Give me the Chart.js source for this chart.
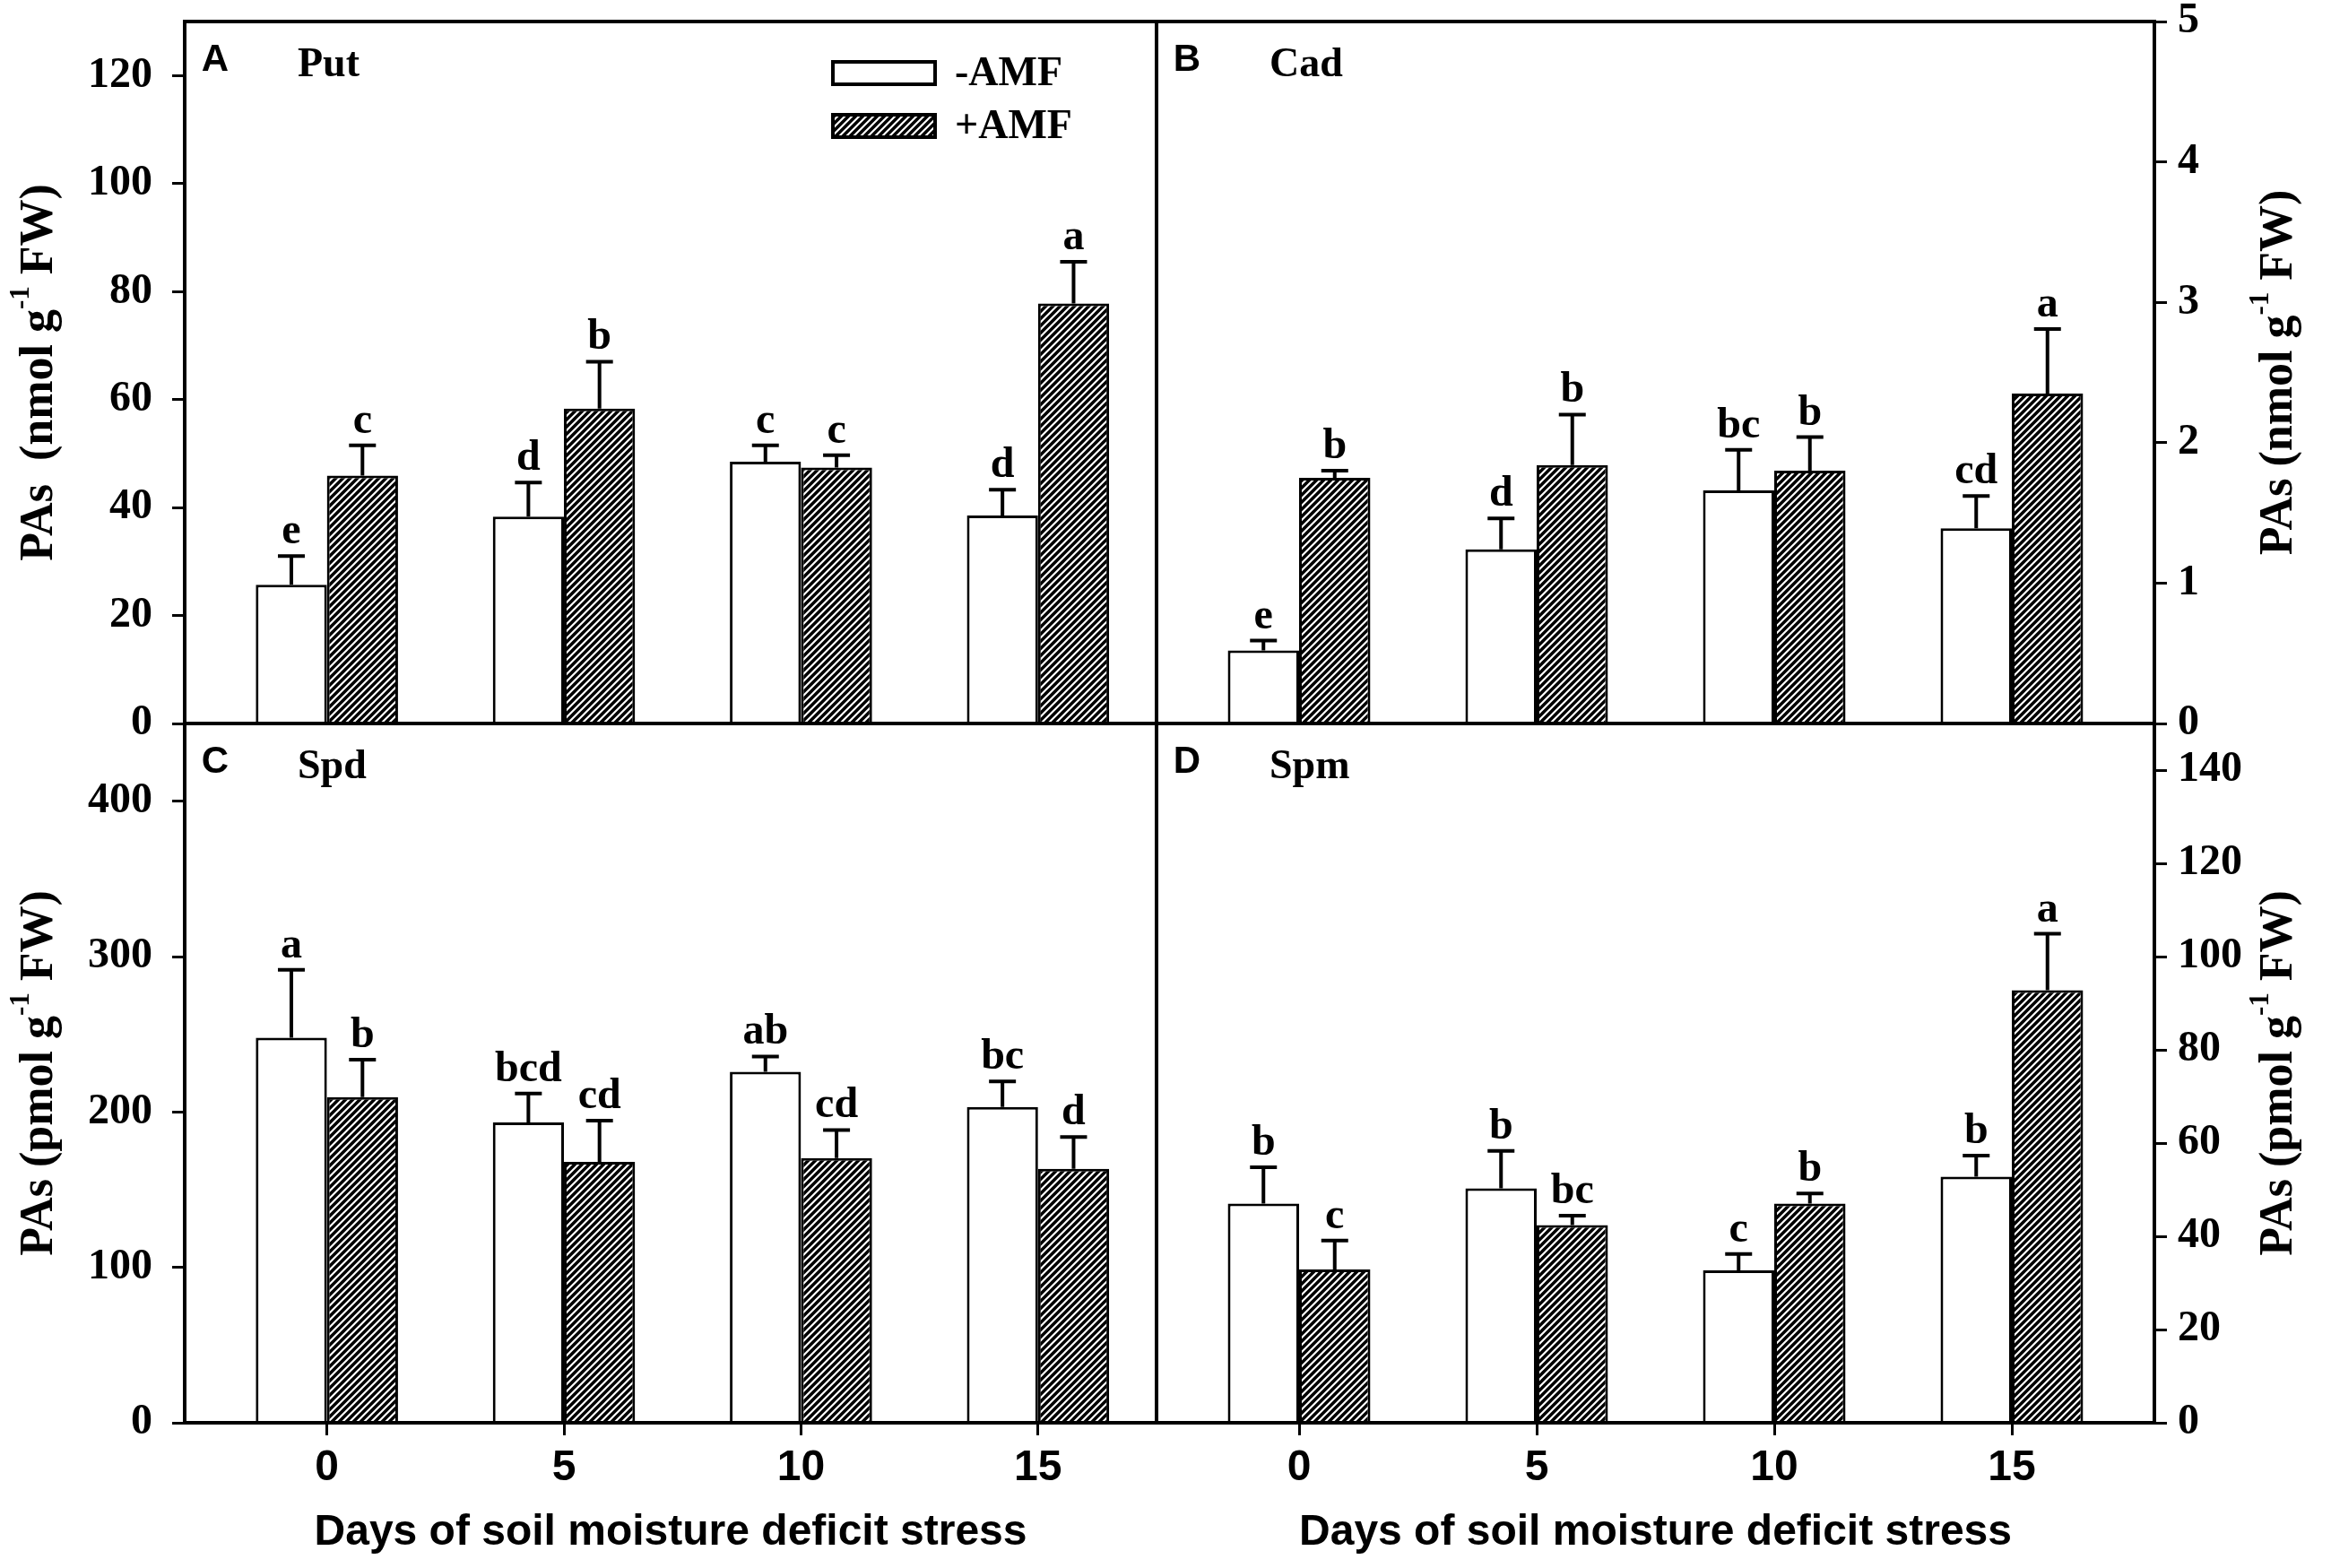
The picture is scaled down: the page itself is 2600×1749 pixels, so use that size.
<!DOCTYPE html>
<html>
<head>
<meta charset="utf-8">
<title>PAs under soil moisture deficit stress</title>
<script src="https://cdn.jsdelivr.net/npm/chart.js@4.4.1/dist/chart.umd.min.js"></script>
<style>
  html, body { margin: 0; padding: 0; background: #fff; }
  #wrap { position: relative; width: 2600px; height: 1749px; background: #fff; }
  #wrap canvas { position: absolute; left: 0; top: 0; }
</style>
</head>
<body>
<div id="wrap">
  <canvas id="chartA" width="2600" height="1749"></canvas>
  <canvas id="chartB" width="2600" height="1749"></canvas>
  <canvas id="chartC" width="2600" height="1749"></canvas>
  <canvas id="chartD" width="2600" height="1749"></canvas>
</div>
<script>
// Datos
const days = [0, 5, 10, 15];
const seriesNames = ['-AMF', '+AMF'];

// A - Put (nmol g-1 FW)
const putMinus = [25.7, 38.3, 48.5, 38.5];
const putMinusErr = [5.3, 6.3, 3.0, 4.8];
const putPlus = [45.9, 58.3, 47.4, 77.8];
const putPlusErr = [5.6, 8.7, 2.3, 7.7];
const putMinusLetters = ['e', 'd', 'c', 'd'];
const putPlusLetters = ['c', 'b', 'c', 'a'];
const putTicks = [0, 20, 40, 60, 80, 100, 120];

// B - Cad (nmol g-1 FW)
const cadMinus = [0.52, 1.24, 1.66, 1.39];
const cadMinusErr = [0.07, 0.22, 0.29, 0.23];
const cadPlus = [1.75, 1.84, 1.80, 2.35];
const cadPlusErr = [0.05, 0.36, 0.24, 0.46];
const cadMinusLetters = ['e', 'd', 'bc', 'cd'];
const cadPlusLetters = ['b', 'b', 'b', 'a'];
const cadTicks = [0, 1, 2, 3, 4, 5];

// C - Spd (pmol g-1 FW)
const spdMinus = [247.8, 193.2, 225.8, 203.2];
const spdMinusErr = [43.7, 18.7, 9.9, 16.5];
const spdPlus = [209.5, 167.9, 170.3, 163.4];
const spdPlusErr = [24.1, 26.5, 18.1, 20.5];
const spdMinusLetters = ['a', 'bcd', 'ab', 'bc'];
const spdPlusLetters = ['b', 'cd', 'cd', 'd'];
const spdTicks = [0, 100, 200, 300, 400];

// D - Spm (pmol g-1 FW)
const spmMinus = [47.0, 50.3, 32.7, 52.8];
const spmMinusErr = [7.8, 8.0, 3.5, 4.5];
const spmPlus = [32.9, 42.4, 47.0, 92.8];
const spmPlusErr = [6.2, 2.0, 2.2, 12.1];
const spmMinusLetters = ['b', 'b', 'c', 'b'];
const spmPlusLetters = ['c', 'bc', 'b', 'a'];
const spmTicks = [0, 20, 40, 60, 80, 100, 120, 140];

const xTitle = 'Days of soil moisture deficit stress';

const W = 2600, H = 1749;
const SERIF = "'Liberation Serif', 'Times New Roman', serif";
const SANS = "'Liberation Sans', Arial, sans-serif";

//Patrón de rayado para las barras +AMF
function hatchPattern() {
    const c = document.createElement('canvas');
    c.width = 8; c.height = 8;
    const g = c.getContext('2d');
    g.fillStyle = '#000';
    g.fillRect(0, 0, 8, 8);
    g.strokeStyle = '#fff';
    g.lineWidth = 2.2;
    g.beginPath();
    g.moveTo(-2, 10); g.lineTo(10, -2);
    g.moveTo(-2, 2); g.lineTo(2, -2);
    g.moveTo(6, 10); g.lineTo(10, 6);
    g.stroke();
    return g.createPattern(c, 'repeat');
}
const hatch = hatchPattern();

//Texto del eje y con superíndice, rotado
function drawYTitle(ctx, cx, cy, prefix) {
    const parts = [
        { t: prefix + ' g', sup: false },
        { t: '-1', sup: true },
        { t: ' FW)', sup: false }
    ];
    const mainFont = 'bold 52px ' + SERIF;
    const supFont = 'bold 31px ' + SERIF;
    ctx.save();
    ctx.translate(cx, cy);
    ctx.rotate(-Math.PI / 2);
    ctx.fillStyle = '#000';
    ctx.textBaseline = 'middle';
    ctx.textAlign = 'left';
    let total = 0;
    parts.forEach(p => {
        ctx.font = p.sup ? supFont : mainFont;
        p.w = ctx.measureText(p.t).width;
        total += p.w;
    });
    let x = -total / 2;
    parts.forEach(p => {
        ctx.font = p.sup ? supFont : mainFont;
        ctx.fillText(p.t, x, p.sup ? -21 : 0);
        x += p.w;
    });
    ctx.restore();
}

//Plugin: marco, barras de error, letras, rótulos y leyenda
function makeDecor(o) {
    return {
        id: 'decor' + o.panel,
        afterDatasetsDraw(chart) {
            const ctx = chart.ctx;
            const yScale = chart.scales.y;
            ctx.save();
            chart.data.datasets.forEach((ds, i) => {
                const meta = chart.getDatasetMeta(i);
                meta.data.forEach((bar, j) => {
                    const top = yScale.getPixelForValue(ds.data[j].y + ds.errors[j]);
                    ctx.strokeStyle = '#000';
                    ctx.lineWidth = 4;
                    ctx.beginPath();
                    ctx.moveTo(bar.x, bar.y);
                    ctx.lineTo(bar.x, top);
                    ctx.moveTo(bar.x - 15, top);
                    ctx.lineTo(bar.x + 15, top);
                    ctx.stroke();
                    ctx.fillStyle = '#000';
                    ctx.font = 'bold 48px ' + SERIF;
                    ctx.textAlign = 'center';
                    ctx.textBaseline = 'alphabetic';
                    ctx.fillText(ds.letters[j], bar.x, top - 14);
                });
            });
            ctx.restore();
        },
        afterDraw(chart) {
            const ctx = chart.ctx;
            const a = chart.chartArea;
            ctx.save();
            ctx.strokeStyle = '#000';
            ctx.lineWidth = 4;
            ctx.strokeRect(a.left, a.top, a.right - a.left, a.bottom - a.top);

            ctx.fillStyle = '#000';
            ctx.textAlign = 'center';
            ctx.textBaseline = 'alphabetic';
            ctx.font = 'bold 42px ' + SANS;
            ctx.fillText(o.panel, a.left + 34, a.top + 55);
            ctx.textAlign = 'left';
            ctx.font = 'bold 46px ' + SERIF;
            ctx.fillText(o.name, a.left + 126, a.top + 61);

            const cy = (a.top + a.bottom) / 2;
            if (o.side === 'left') {
                drawYTitle(ctx, a.left - 161, cy, o.yPrefix);
            } else {
                drawYTitle(ctx, a.right + 140, cy, o.yPrefix);
            }

            if (o.legend) {
                chart.data.datasets.forEach((ds, i) => {
                    const sx = a.left + 723, sy = a.top + 45 + i * 59;
                    ctx.fillStyle = ds.backgroundColor;
                    ctx.fillRect(sx, sy, 114, 25);
                    ctx.lineWidth = 4;
                    ctx.strokeStyle = '#000';
                    ctx.strokeRect(sx, sy, 114, 25);
                    ctx.fillStyle = '#000';
                    ctx.font = 'bold 46px ' + SERIF;
                    ctx.textAlign = 'left';
                    ctx.textBaseline = 'middle';
                    ctx.fillText(ds.label, sx + 136, sy + 14);
                });
            }
            ctx.restore();
        }
    };
}

function toPoints(values) {
    return values.map((v, i) => ({ x: days[i], y: v }));
}

//Creación de cada panel
function makePanel(id, o) {
    const yW = 130;
    const xH = o.showX ? 160 : 0;
    const left = o.side === 'left';
    const area = o.area;
    return new Chart(document.getElementById(id), {
        type: 'bar',
        data: {
            datasets: [{
                label: seriesNames[0],
                data: toPoints(o.minus),
                errors: o.minusErr,
                letters: o.minusLetters,
                backgroundColor: '#fff',
                borderColor: '#000',
                borderWidth: 3
            }, {
                label: seriesNames[1],
                data: toPoints(o.plus),
                errors: o.plusErr,
                letters: o.plusLetters,
                backgroundColor: hatch,
                borderColor: '#000',
                borderWidth: 3
            }]
        },
        options: {
            responsive: false,
            animation: false,
            devicePixelRatio: 1,
            layout: {
                padding: {
                    left: left ? area.left - yW : area.left,
                    right: left ? W - area.right : W - area.right - yW,
                    top: area.top,
                    bottom: H - area.bottom - xH
                }
            },
            plugins: {
                legend: { display: false },
                tooltip: { enabled: false }
            },
            datasets: {
                bar: { categoryPercentage: 0.6, barPercentage: 1.0 }
            },
            scales: {
                x: {
                    type: 'linear',
                    min: -3,
                    max: o.xMax,
                    offset: false,
                    display: o.showX,
                    border: { display: false },
                    grid: {
                        display: true, offset: false, drawOnChartArea: false, drawTicks: true,
                        tickLength: 14, tickWidth: 3, tickColor: '#000', color: '#000'
                    },
                    ticks: {
                        color: '#000', padding: 8,
                        font: { family: SANS, weight: 'bold', size: 48 }
                    },
                    title: {
                        display: true, text: xTitle, color: '#000',
                        font: { family: SANS, weight: 'bold', size: 48 },
                        padding: { top: 0, bottom: 8 }
                    },
                    afterBuildTicks: s => { s.ticks = days.map(v => ({ value: v })); },
                    afterFit: s => { s.height = xH; s.paddingLeft = 0; s.paddingRight = 0; }
                },
                y: {
                    type: 'linear',
                    position: o.side,
                    min: 0,
                    max: o.yMax,
                    border: { display: false },
                    grid: {
                        display: true, drawOnChartArea: false, drawTicks: true,
                        tickLength: 14, tickWidth: 3, tickColor: '#000', color: '#000'
                    },
                    ticks: {
                        color: '#000', padding: left ? 22 : 12,
                        font: { family: SERIF, weight: 'bold', size: 48 }
                    },
                    afterBuildTicks: s => { s.ticks = o.yTicks.map(v => ({ value: v })); },
                    afterFit: s => { s.width = yW; s.paddingTop = 0; s.paddingBottom = 0; }
                }
            }
        },
        plugins: [makeDecor(o)]
    });
}

const LEFT = 206, MID = 1290, RIGHT = 2403, TOP = 24, MIDDLE = 807, BOTTOM = 1587;

makePanel('chartA', {
    panel: 'A', name: 'Put', yPrefix: 'PAs  (nmol', side: 'left', legend: true, showX: false,
    area: { left: LEFT, right: MID, top: TOP, bottom: MIDDLE },
    xMax: 17.5, yMax: 130, yTicks: putTicks,
    minus: putMinus, minusErr: putMinusErr, minusLetters: putMinusLetters,
    plus: putPlus, plusErr: putPlusErr, plusLetters: putPlusLetters
});
makePanel('chartB', {
    panel: 'B', name: 'Cad', yPrefix: 'PAs (nmol', side: 'right', legend: false, showX: false,
    area: { left: MID, right: RIGHT, top: TOP, bottom: MIDDLE },
    xMax: 18, yMax: 5, yTicks: cadTicks,
    minus: cadMinus, minusErr: cadMinusErr, minusLetters: cadMinusLetters,
    plus: cadPlus, plusErr: cadPlusErr, plusLetters: cadPlusLetters
});
makePanel('chartC', {
    panel: 'C', name: 'Spd', yPrefix: 'PAs (pmol', side: 'left', legend: false, showX: true,
    area: { left: LEFT, right: MID, top: MIDDLE, bottom: BOTTOM },
    xMax: 17.5, yMax: 450, yTicks: spdTicks,
    minus: spdMinus, minusErr: spdMinusErr, minusLetters: spdMinusLetters,
    plus: spdPlus, plusErr: spdPlusErr, plusLetters: spdPlusLetters
});
makePanel('chartD', {
    panel: 'D', name: 'Spm', yPrefix: 'PAs (pmol', side: 'right', legend: false, showX: true,
    area: { left: MID, right: RIGHT, top: MIDDLE, bottom: BOTTOM },
    xMax: 18, yMax: 150, yTicks: spmTicks,
    minus: spmMinus, minusErr: spmMinusErr, minusLetters: spmMinusLetters,
    plus: spmPlus, plusErr: spmPlusErr, plusLetters: spmPlusLetters
});
</script>
</body>
</html>
